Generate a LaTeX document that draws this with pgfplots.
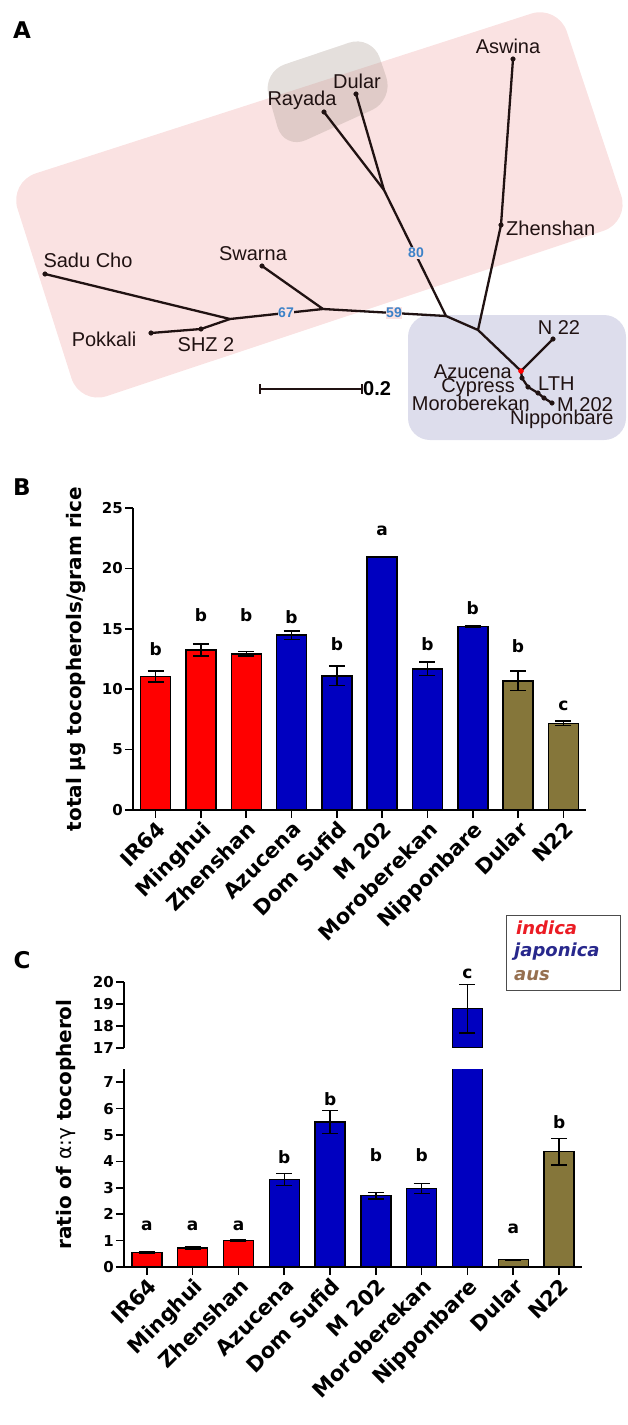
\documentclass[border=0pt]{standalone}
\usepackage{pgfplots}
\pgfplotsset{compat=1.18}
\usepackage{fontspec}
\setmainfont{DejaVu Sans}
\newfontfamily\treefont{Liberation Sans}
\definecolor{indred}{RGB}{255,0,0}
\definecolor{japblue}{RGB}{0,0,192}
\definecolor{ausol}{RGB}{133,118,58}
\definecolor{pinkbg}{RGB}{250,226,226}
\definecolor{lavbg}{RGB}{221,221,236}
\definecolor{blobc}{RGB}{165,150,140}
\definecolor{numblue}{RGB}{60,130,200}
\definecolor{treec}{RGB}{32,18,18}
\definecolor{legred}{RGB}{235,28,36}
\definecolor{legblue}{RGB}{40,40,140}
\definecolor{legbrown}{RGB}{150,112,80}
\newcommand{\fs}[1]{\fontsize{#1}{#1}\selectfont}
\begin{document}
\begin{tikzpicture}
\useasboundingbox (0,0) rectangle (628pt,1425pt);
% ---------------- full-page axis: panel A, panel letters, legend
\begin{axis}[at={(0pt,0pt)}, anchor=south west, scale only axis,
  width=628pt, height=1425pt, xmin=0, xmax=628, ymin=0, ymax=1425,
  y dir=reverse, hide axis, clip=false]
\addplot[fill=pinkbg, draw=none, rounded corners=28pt] coordinates {(9,182) (558,5) (630,222) (80,405)} -- cycle;
\addplot[fill=blobc, fill opacity=0.3, draw=none, rounded corners=24pt] coordinates {(262,72) (372,35) (394,100) (284,150)} -- cycle;
\addplot[fill=lavbg, draw=none, rounded corners=22pt] coordinates {(408,315) (626,315) (626,440) (408,440)} -- cycle;
% tree branches
\addplot[treec, line width=2.3pt] coordinates {(45,274) (230,319)};
\addplot[treec, line width=2.3pt] coordinates {(151,333) (201,329) (230,319)};
\addplot[treec, line width=2.3pt] coordinates {(230,319) (323,309) (446,316)};
\addplot[treec, line width=2.3pt] coordinates {(262,266) (323,309)};
\addplot[treec, line width=2.3pt] coordinates {(324,112) (384,190)};
\addplot[treec, line width=2.3pt] coordinates {(356,94) (384,190) (446,316) (478,330) (521,371)};
\addplot[treec, line width=2.3pt] coordinates {(513,59) (501,225) (478,330)};
\addplot[treec, line width=2.3pt] coordinates {(521,371) (553,339)};
\addplot[treec, line width=2.3pt] coordinates {(521,371) (522,378) (528,387) (538,393) (544,398) (552,403)};
\addplot[only marks, mark=*, mark size=2.3pt, treec] coordinates {(45,274) (151,333) (201,329) (262,266) (324,112) (356,94) (513,59) (501,225) (553,339) (522,378) (528,387) (538,393) (544,398) (552,403)};
\addplot[only marks, mark=*, mark size=2.5pt, red] coordinates {(521,371)};
% scale bar
\addplot[treec, line width=1.5pt] coordinates {(260,389) (362,389)};
\addplot[treec, line width=1.5pt] coordinates {(260,384) (260,394)};
\addplot[treec, line width=1.5pt] coordinates {(362,384) (362,394)};
\node[anchor=west, inner sep=1pt, font=\treefont\bfseries\fs{20}] at (axis cs:362,389) {0.2};
% bootstrap values
\node[font=\treefont\bfseries\fs{14}, text=numblue, fill=pinkbg, inner sep=0.6pt] at (axis cs:286,313) {67};
\node[font=\treefont\bfseries\fs{14}, text=numblue, fill=pinkbg, inner sep=0.6pt] at (axis cs:394,313) {59};
\node[font=\treefont\bfseries\fs{14}, text=numblue, fill=pinkbg, inner sep=0.6pt] at (axis cs:416,253) {80};
% taxon labels
\begin{scope}[every node/.style={font=\treefont\fs{20}, text=treec, inner sep=0pt}]
\node at (axis cs:508,46) {Aswina};
\node at (axis cs:357,81) {Dular};
\node at (axis cs:302,100) {Rayada};
\node[anchor=west] at (axis cs:506,228) {Zhenshan};
\node at (axis cs:253,254) {Swarna};
\node at (axis cs:88,260) {Sadu Cho};
\node at (axis cs:104,339) {Pokkali};
\node at (axis cs:206,345) {SHZ 2};
\node at (axis cs:559,328) {N 22};
\node[anchor=east] at (axis cs:512,372) {Azucena};
\node[anchor=east] at (axis cs:515,388) {Cypress};
\node[anchor=west] at (axis cs:538,384) {LTH};
\node[anchor=east] at (axis cs:530,403) {Moroberekan};
\node[anchor=west] at (axis cs:557,405) {M 202};
\node[anchor=west] at (axis cs:510,419) {Nipponbare};
\end{scope}
% panel letters
\node[font=\bfseries\fs{23}] at (axis cs:22,30) {A};
\node[font=\bfseries\fs{23}] at (axis cs:22,487) {B};
\node[font=\bfseries\fs{23}] at (axis cs:22,960) {C};
% legend
\addplot[draw=black!70, line width=1pt] coordinates {(506,915) (620,915) (620,990) (506,990)} -- cycle;
\node[anchor=west, inner sep=0pt, font=\bfseries\itshape\fs{18}, text=legred] at (axis cs:516,928) {indica};
\node[anchor=west, inner sep=0pt, font=\bfseries\itshape\fs{18}, text=legblue] at (axis cs:514,952) {japonica};
\node[anchor=west, inner sep=0pt, font=\bfseries\itshape\fs{18}, text=legbrown] at (axis cs:514,976) {aus};
\end{axis}

\pgfplotsset{
  barstyle/.style={ybar, bar width=30pt, bar shift=0pt, draw=black, line width=1.5pt,
    error bars/y dir=both, error bars/y explicit,
    error bars/error bar style={line width=1.5pt, black},
    error bars/error mark options={rotate=90, mark size=8pt, line width=1.5pt, black}},
  chartaxis/.style={scale only axis, xmin=-0.5, xmax=9.5,
    axis x line=bottom, axis y line=left, axis line style={-, line width=1.6pt},
    tick style={line width=1.6pt, black}, major tick length=8pt, tick align=outside,
    /pgf/number format/assume math mode=true,
    yticklabel style={font=\bfseries\fs{15}, inner sep=2pt},
    xtick={0,...,9},
    xticklabels={IR64,Minghui,Zhenshan,Azucena,Dom Sufid,M 202,Moroberekan,Nipponbare,Dular,N22},
    xticklabel style={rotate=45, anchor=north east, font=\bfseries\fs{21}, inner sep=1pt}},
  letters/.style={only marks, mark=none, nodes near coords, point meta=explicit symbolic,
    nodes near coords style={anchor=center, font=\bfseries\fs{17}, inner sep=0pt}}
}
% ---------------- panel B
\begin{axis}[chartaxis, at={(133pt,615pt)}, anchor=south west,
  width=453pt, height=302pt, ymin=0, ymax=25, ytick={0,5,...,25}, clip=false,
  ylabel={total µg tocopherols/gram rice},
  ylabel style={font=\bfseries\fs{20}, at={(axis description cs:-0.126,0.5)}, anchor=center}]
\addplot[barstyle, fill=indred] table[x=x, y=y, y error=e] {
x y e
0 11.05 0.45
1 13.25 0.5
2 12.93 0.2
};
\addplot[barstyle, fill=japblue] table[x=x, y=y, y error=e] {
x y e
3 14.48 0.35
4 11.10 0.8
5 20.94 0.05
6 11.69 0.55
7 15.19 0.05
};
\addplot[barstyle, fill=ausol] table[x=x, y=y, y error=e] {
x y e
8 10.69 0.8
9 7.18 0.18
};
\addplot[letters] table[x=x, y=y, meta=l] {
x y l
0 13.34 b
1 16.1 b
2 16.1 b
3 16.0 b
4 13.73 b
5 23.07 a
6 13.73 b
7 16.7 b
8 13.6 b
9 8.6 c
};
\end{axis}
% ---------------- panel C lower
\begin{axis}[chartaxis, at={(124pt,158pt)}, anchor=south west,
  width=458pt, height=198pt, ymin=0, ymax=7.5, ytick={0,...,7},
  ylabel={ratio of {\mdseries α:γ} tocopherol},
  ylabel style={font=\bfseries\fs{20}, at={(axis description cs:-0.127,0.72)}, anchor=center}]
\addplot[barstyle, fill=indred] table[x=x, y=y, y error=e] {
x y e
0 0.55 0.03
1 0.72 0.03
2 1.00 0.03
};
\addplot[barstyle, fill=japblue] table[x=x, y=y, y error=e] {
x y e
3 3.32 0.23
4 5.49 0.44
5 2.70 0.12
6 2.97 0.19
7 18.79 0
};
\addplot[barstyle, fill=ausol] table[x=x, y=y, y error=e] {
x y e
8 0.28 0.01
9 4.37 0.5
};
\addplot[letters] table[x=x, y=y, meta=l] {
x y l
0 1.54 a
1 1.54 a
2 1.54 a
3 4.16 b
4 6.37 b
5 4.22 b
6 4.22 b
8 1.44 a
9 5.49 b
};
\end{axis}
% ---------------- panel C upper
\begin{axis}[scale only axis, at={(124pt,377pt)}, anchor=south west,
  width=458pt, height=66pt, xmin=-0.5, xmax=9.5, ymin=17, ymax=20,
  axis x line=none, axis y line=left, axis line style={-, line width=1.6pt},
  tick style={line width=1.6pt, black}, major tick length=8pt, tick align=outside,
  /pgf/number format/assume math mode=true,
  yticklabel style={font=\bfseries\fs{15}, inner sep=2pt},
  ytick={17,18,19,20}, xtick=\empty, clip mode=individual]
\addplot[barstyle, fill=japblue] table[x=x, y=y, y error=e] {
x y e
7 18.79 1.1
};
\node[font=\bfseries\fs{17}, inner sep=0pt] at (axis cs:7,20.38) {c};
\end{axis}
\end{tikzpicture}
\end{document}
